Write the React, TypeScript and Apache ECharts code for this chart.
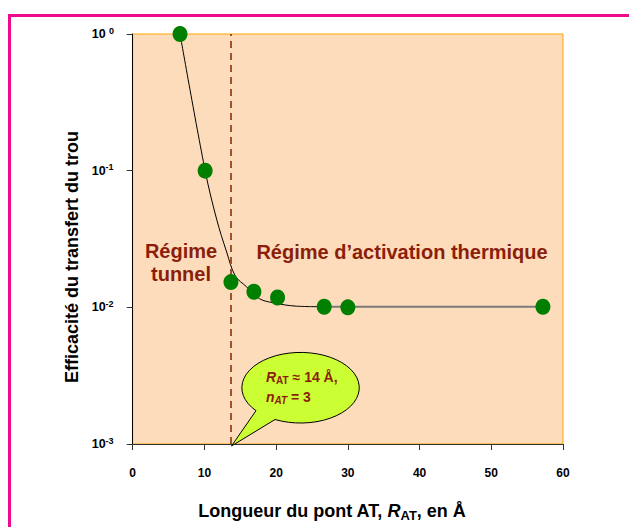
import React, { useEffect, useRef } from "react";
import * as echarts from "echarts";

// Measured hole-transfer efficiency vs. AT bridge length (Å)
const distances = [6.6, 10.1, 13.7, 16.9, 20.2, 26.7, 30.0, 57.2];
const efficiencies = [1.0, 0.1, 0.0153, 0.013, 0.0118, 0.0101, 0.01, 0.0101];

// Guide curve through the tunnelling regime down to the plateau
const fitX = [6.6, 10.1, 11.7, 13.1, 14.3, 15.9, 17.7, 19.6, 22.8, 26.7];
const fitY = [1.0, 0.1, 0.0442, 0.0254, 0.017, 0.0141, 0.01155, 0.0108, 0.0102, 0.0101];

// Thermally activated plateau
const plateauX = [26.7, 57.2];
const plateauY = [0.0101, 0.0101];

const crossoverLength = 13.7;
const yTickLabels: Record<string, string> = {
  "1": "{b|10 }{sup|0}",
  "0.1": "{b|10}{sup|-1}",
  "0.01": "{b|10}{sup|-2}",
  "0.001": "{b|10}{sup|-3}",
};

const FONT = "'Liberation Sans', Arial, Helvetica, sans-serif";
const DARK_RED = "#8B1E0A";

echarts.graphic.registerShape(
  "callout",
  echarts.graphic.extendPath(
    "M 256 410.7 A 58.7 35.3 0 1 1 275 419.5 L 231.5 446 Z",
    {}
  ) as any
);

export default function App() {
  const ref = useRef<HTMLDivElement>(null);

  useEffect(() => {
    if (!ref.current) return;
    const chart = echarts.init(ref.current, undefined, { renderer: "svg" });

    const option: echarts.EChartsOption = {
      animation: false,
      textStyle: { fontFamily: FONT },
      grid: {
        left: 132.7,
        right: 66,
        top: 34,
        bottom: 81,
        show: true,
        backgroundColor: "#FDDCBB",
        borderColor: "#FFA500",
        borderWidth: 1,
      },
      xAxis: {
        type: "value",
        min: 0,
        max: 60,
        interval: 10,
        axisLine: { show: true, lineStyle: { color: "#333", width: 1 } },
        axisTick: { show: true, length: 6, lineStyle: { color: "#333" } },
        splitLine: { show: false },
        axisLabel: {
          margin: 23,
          color: "#000",
          fontWeight: "bold",
          fontSize: 12,
          fontFamily: FONT,
        },
        name: "{n|Longueur du pont AT, }{i|R}{sub|AT}{n|, en Å}",
        nameLocation: "middle",
        nameGap: 55,
        nameTextStyle: {
          padding: [0, 32, 0, 0],
          rich: {
            n: { fontSize: 18, fontWeight: "bold", color: "#000", fontFamily: FONT },
            i: {
              fontSize: 18,
              fontWeight: "bold",
              fontStyle: "italic",
              color: "#000",
              fontFamily: FONT,
            },
            sub: {
              fontSize: 13,
              fontWeight: "bold",
              color: "#000",
              fontFamily: FONT,
              padding: [10, 0, 0, 0],
            },
          },
        },
      },
      yAxis: {
        type: "log",
        logBase: 10,
        min: 0.001,
        max: 1,
        axisLine: { show: true, lineStyle: { color: "#000", width: 1 } },
        axisTick: { show: true, length: 6, lineStyle: { color: "#333" } },
        splitLine: { show: false },
        axisLabel: {
          margin: 41,
          align: "left",
          formatter: (v: number) => {
            const key = String(Number(v.toPrecision(3)));
            return yTickLabels[key] ?? "";
          },
          rich: {
            b: { fontSize: 12.5, fontWeight: "bold", color: "#000", fontFamily: FONT },
            sup: {
              fontSize: 9,
              fontWeight: "bold",
              color: "#000",
              fontFamily: FONT,
              padding: [0, 0, 7, 0],
            },
          },
        },
        name: "Efficacité du transfert du trou",
        nameLocation: "middle",
        nameGap: 40,
        nameTextStyle: {
          fontSize: 18,
          fontWeight: "bold",
          color: "#000",
          fontFamily: FONT,
          padding: [0, 36, 0, 0],
        },
      },
      series: [
        {
          name: "fit",
          type: "line",
          data: fitX.map((x, i) => [x, fitY[i]]),
          smooth: 0.35,
          showSymbol: false,
          symbol: "none",
          lineStyle: { color: "#000", width: 1 },
          z: 2,
          markLine: {
            silent: true,
            symbol: ["none", "none"],
            label: { show: false },
            lineStyle: { color: "#A0522D", width: 2, type: [7, 5] },
            data: [{ xAxis: crossoverLength }],
          },
        },
        {
          name: "plateau",
          type: "line",
          data: plateauX.map((x, i) => [x, plateauY[i]]),
          showSymbol: false,
          symbol: "none",
          lineStyle: { color: "#7A7A7A", width: 2 },
          z: 2,
        },
        {
          name: "points",
          type: "scatter",
          data: distances.map((x, i) => [x, efficiencies[i]]),
          symbol: "circle",
          symbolSize: [15, 16],
          itemStyle: { color: "#007F00", opacity: 1 },
          z: 5,
        },
      ],
      graphic: [
        {
          type: "rect",
          left: 7,
          top: 13,
          shape: { x: 0, y: 0, width: 700, height: 600 },
          style: { fill: "none", stroke: "#EE0A8C", lineWidth: 3 },
          silent: true,
        },
        {
          type: "text",
          x: 181,
          y: 262,
          style: {
            text: "Régime\ntunnel",
            fill: DARK_RED,
            font: `bold 20px ${FONT}`,
            align: "center",
            verticalAlign: "middle",
            lineHeight: 23,
          },
        },
        {
          type: "text",
          x: 402,
          y: 252,
          style: {
            text: "Régime d’activation thermique",
            fill: DARK_RED,
            font: `bold 20px ${FONT}`,
            align: "center",
            verticalAlign: "middle",
          },
        },
        {
          type: "callout",
          x: 0,
          y: 0,
          z: 10,
          style: { fill: "#CCFF33", stroke: "#000", lineWidth: 1 },
        } as any,
        {
          type: "text",
          x: 266,
          y: 387,
          z: 11,
          style: {
            text: "{i|R}{sub|AT}{n| ≈ 14 Å,}\n{i|n}{isub|AT}{n| = 3}",
            align: "left",
            verticalAlign: "middle",
            lineHeight: 20,
            rich: {
              i: { fontSize: 14, fontWeight: "bold", fontStyle: "italic", fill: DARK_RED, fontFamily: FONT },
              n: { fontSize: 14, fontWeight: "bold", fill: DARK_RED, fontFamily: FONT },
              sub: { fontSize: 10, fontWeight: "bold", fill: DARK_RED, fontFamily: FONT, padding: [6, 0, 0, 0] },
              isub: {
                fontSize: 10,
                fontWeight: "bold",
                fontStyle: "italic",
                fill: DARK_RED,
                fontFamily: FONT,
                padding: [6, 0, 0, 0],
              },
            },
          },
        } as any,
      ],
    };

    chart.setOption(option);
    return () => chart.dispose();
  }, []);

  return (
    <div
      ref={ref}
      style={{ position: "absolute", left: 0, top: 0, width: 629, height: 527, background: "#fff" }}
    />
  );
}
